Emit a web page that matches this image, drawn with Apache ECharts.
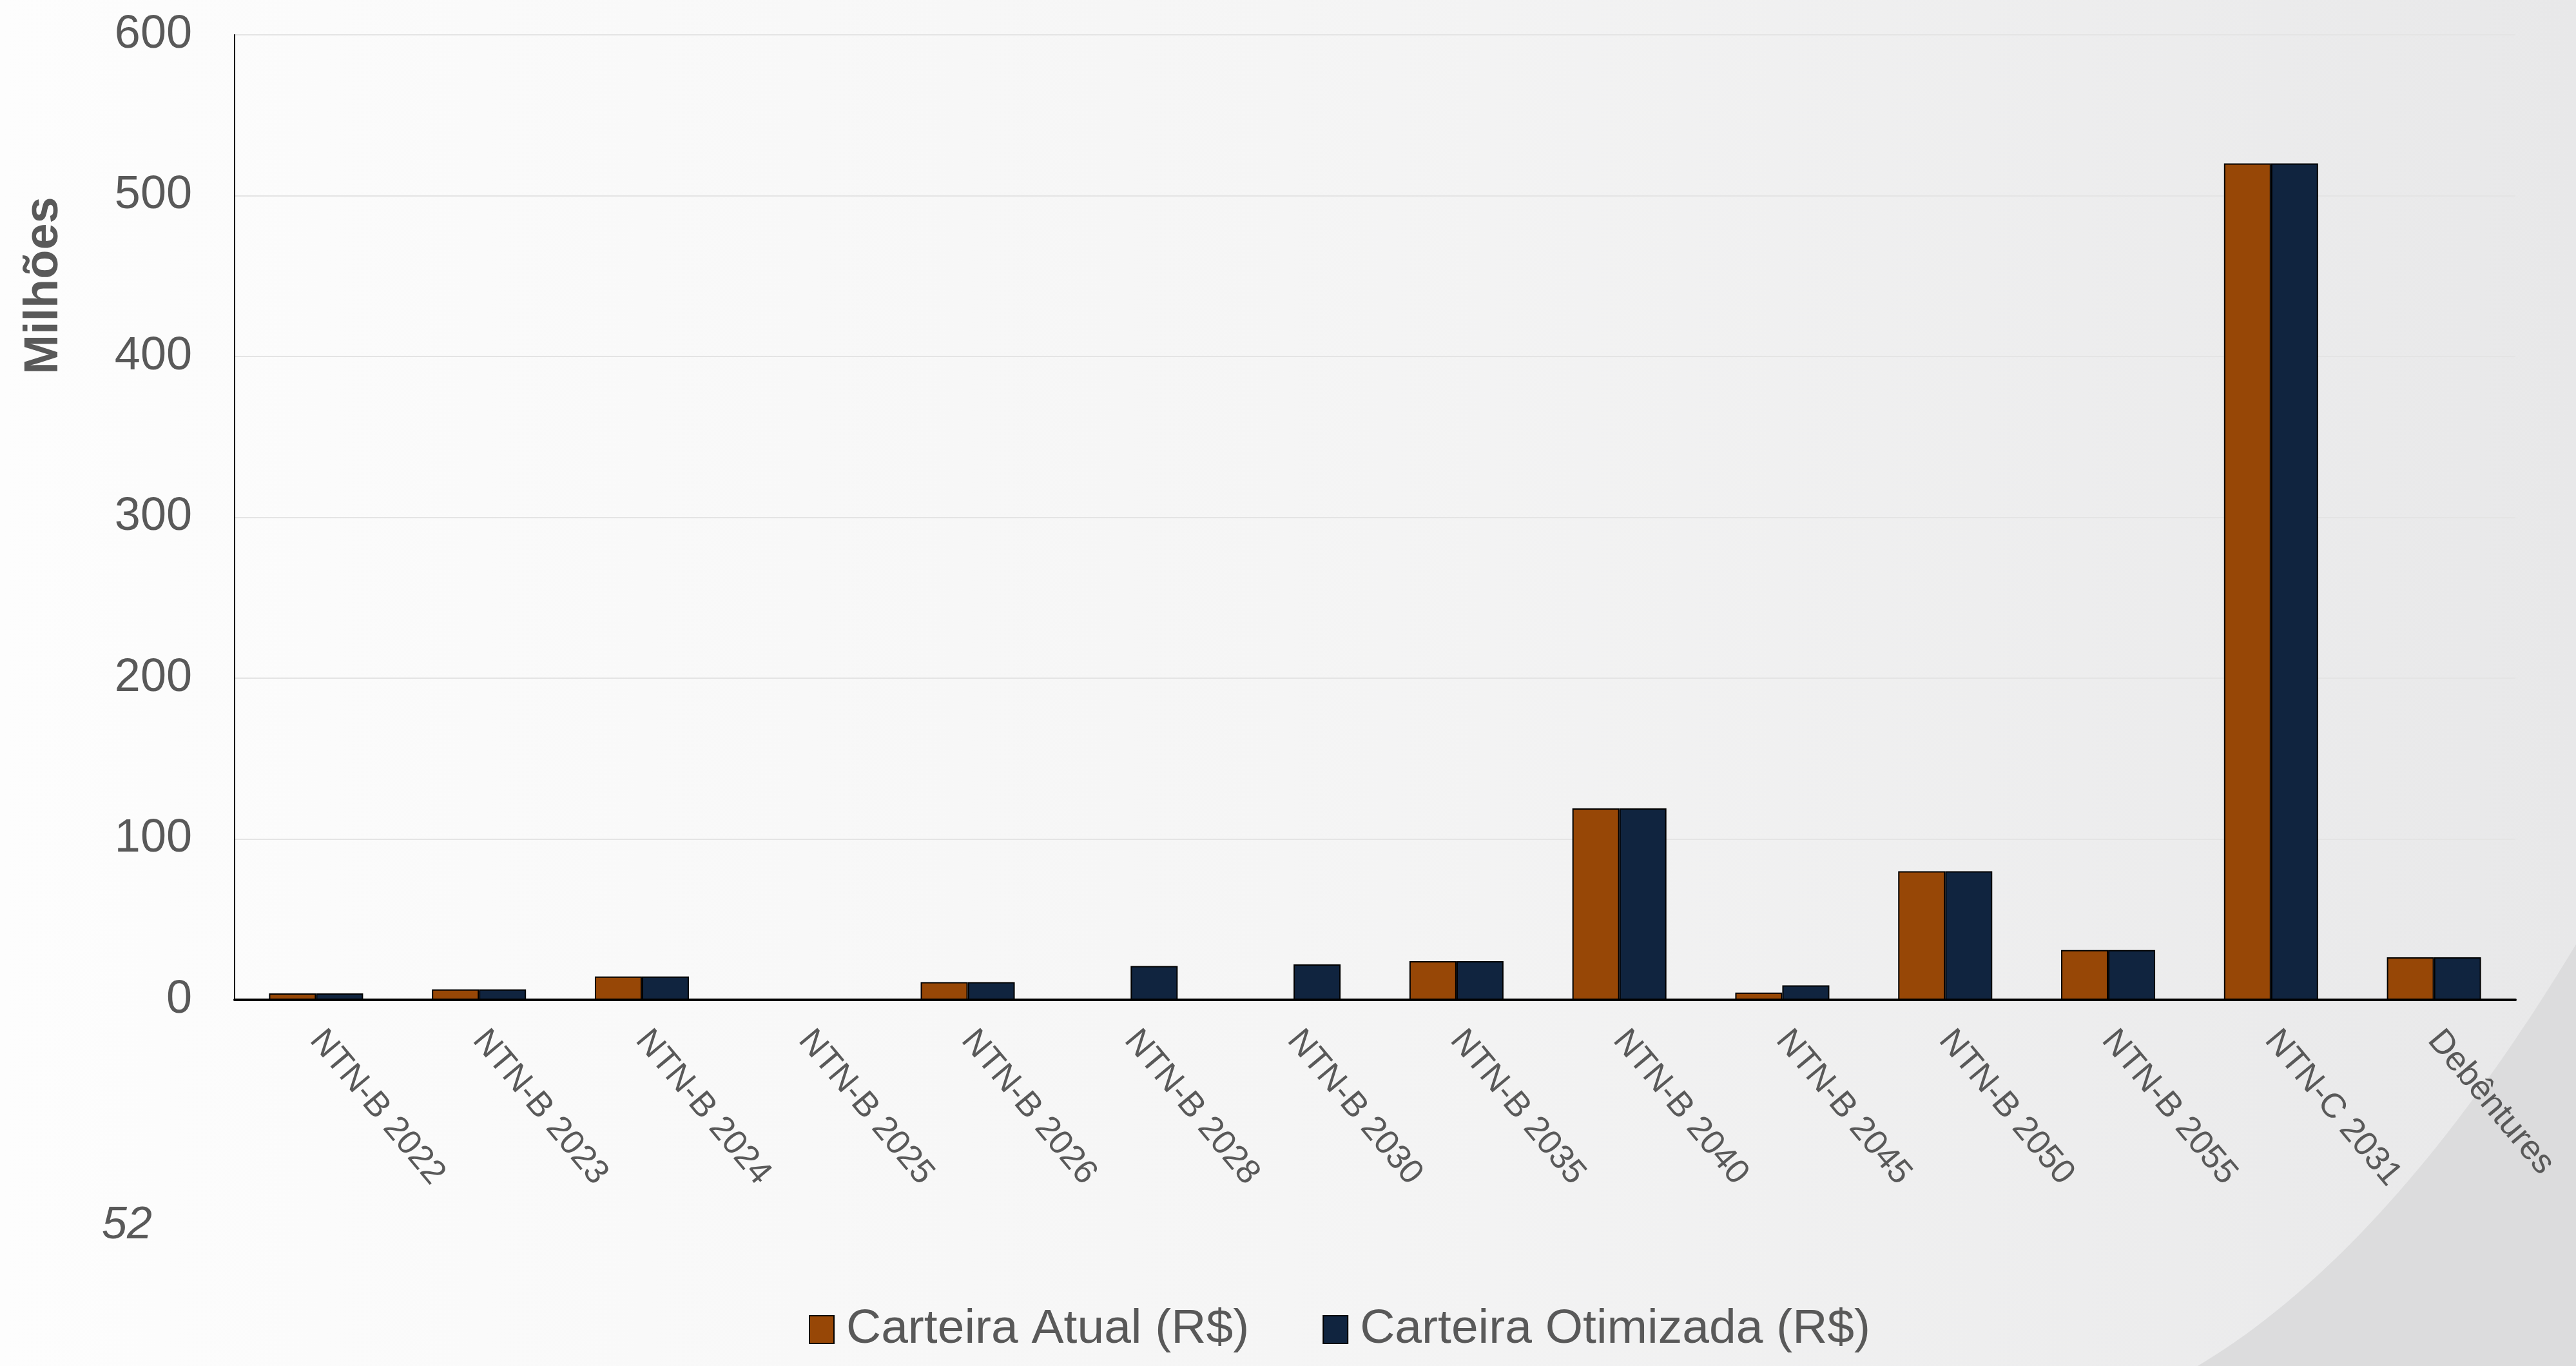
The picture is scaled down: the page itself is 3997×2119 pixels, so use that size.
<!DOCTYPE html>
<html>
<head>
<meta charset="utf-8">
<script src="https://cdn.jsdelivr.net/npm/echarts@6/dist/echarts.min.js"></script>
<style>
  html, body { margin: 0; padding: 0; }
  #main { width: 3997px; height: 2119px; }
</style>
</head>
<body>
<div id="main"></div>
<script>
// titulos da carteira
var categorias = ["NTN-B 2022", "NTN-B 2023", "NTN-B 2024", "NTN-B 2025", "NTN-B 2026", "NTN-B 2028",
  "NTN-B 2030", "NTN-B 2035", "NTN-B 2040", "NTN-B 2045", "NTN-B 2050", "NTN-B 2055", "NTN-C 2031", "Debêntures"];

// valores em milhoes
var carteiraAtual = [4, 6.5, 14.5, 0, 11, 0, 0, 24, 119, 4.5, 80, 31, 520, 26.5];
var carteiraOtimizada = [4, 6.5, 14.5, 0, 11, 21, 22, 24, 119, 9, 80, 31, 520, 26.5];

var yTicks = [0, 100, 200, 300, 400, 500, 600];

var fonte = '"Liberation Sans", Arial, sans-serif';
var cinza = "#595959";

// contorno da faixa curva do fundo (canto inferior direito)
var faixa = [];
for (var i = 0; i <= 40; i++) {
  var t = i / 40;
  var u = 1 - t;
  faixa.push([u * u * 3997 + 2 * u * t * 3710 + t * t * 3410,
              u * u * 1465 + 2 * u * t * 1940 + t * t * 2119]);
}
faixa.push([3997, 2119]);

var myChart = echarts.init(document.getElementById("main"));

var option = {
  animation: false,
  textStyle: { fontFamily: fonte },
  graphic: {
    elements: [
      {
        type: "rect",
        z: -10,
        silent: true,
        shape: { x: 0, y: 0, width: 3997, height: 2119 },
        style: {
          fill: new echarts.graphic.LinearGradient(0, 0, 1, 0, [
            { offset: 0, color: "#fdfdfd" },
            { offset: 0.5, color: "#f5f5f5" },
            { offset: 1, color: "#e8e8e9" }
          ])
        }
      },
      {
        type: "polygon",
        z: -9,
        silent: true,
        shape: { points: faixa },
        style: { fill: "#dcdcdd" }
      },
      {
        type: "text",
        x: 69,
        y: 443,
        rotation: Math.PI / 2,
        style: {
          text: "Milhões",
          font: "bold 74px " + fonte,
          fill: cinza,
          align: "center",
          verticalAlign: "middle"
        }
      },
      {
        type: "text",
        x: 158,
        y: 1902,
        style: {
          text: "52",
          font: "italic 70px " + fonte,
          fill: cinza,
          align: "left",
          verticalAlign: "middle"
        }
      }
    ]
  },
  legend: {
    left: 1250,
    top: 2020,
    icon: "rect",
    itemWidth: 38,
    itemHeight: 43,
    itemGap: 114,
    textStyle: { fontSize: 75, color: cinza, fontFamily: fonte, padding: [0, 0, 0, 14] },
    data: ["Carteira Atual (R$)", "Carteira Otimizada (R$)"]
  },
  grid: {
    left: 364,
    right: 94,
    top: 54,
    bottom: 568,
    containLabel: false
  },
  xAxis: {
    type: "category",
    data: categorias,
    axisLine: { lineStyle: { color: "#000", width: 4 } },
    axisTick: { show: false },
    axisLabel: {
      interval: 0,
      rotate: -50,
      margin: 54,
      fontSize: 53,
      color: cinza,
      fontFamily: fonte
    }
  },
  yAxis: {
    type: "value",
    min: yTicks[0],
    max: yTicks[yTicks.length - 1],
    interval: 100,
    axisLine: { show: true, lineStyle: { color: "#000", width: 2 } },
    axisTick: { show: false },
    splitLine: { lineStyle: { color: "#e4e4e4", width: 2 } },
    axisLabel: { fontSize: 72, color: cinza, margin: 66, fontFamily: fonte }
  },
  series: [
    {
      name: "Carteira Atual (R$)",
      type: "bar",
      data: carteiraAtual,
      barWidth: 73,
      barGap: "0%",
      itemStyle: { color: "#974706", borderColor: "#000", borderWidth: 2 }
    },
    {
      name: "Carteira Otimizada (R$)",
      type: "bar",
      data: carteiraOtimizada,
      barWidth: 73,
      barGap: "0%",
      itemStyle: { color: "#10243f", borderColor: "#000", borderWidth: 2 }
    }
  ]
};

myChart.setOption(option);
</script>
</body>
</html>
